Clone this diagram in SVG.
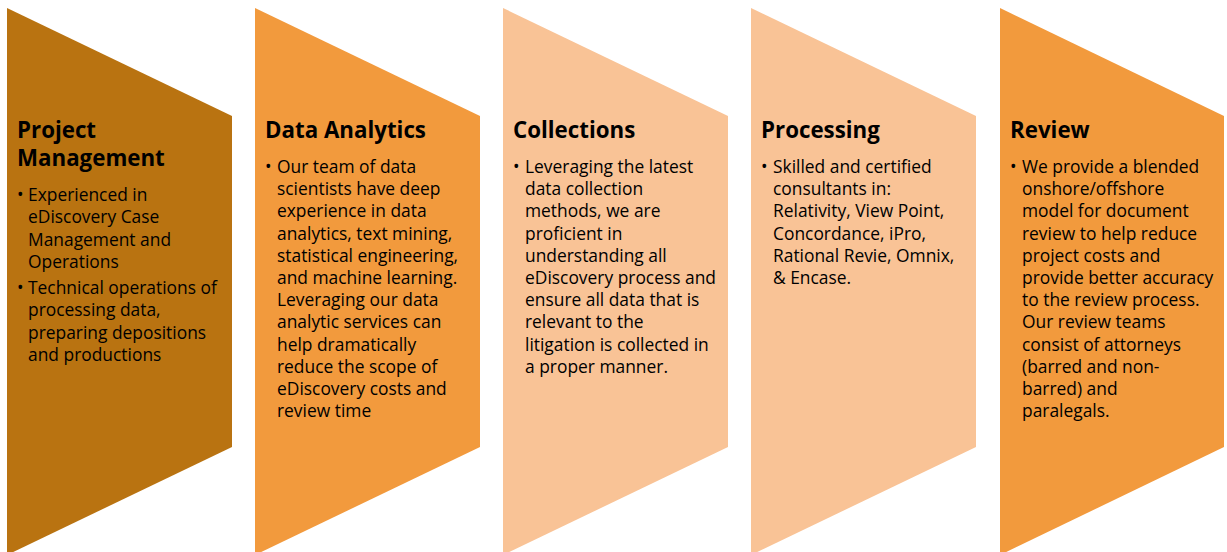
<svg xmlns="http://www.w3.org/2000/svg" width="1227" height="552" viewBox="0 0 1227 552">
<style>
.t{font-family:"Open Sans","Noto Sans",sans-serif;font-weight:700;font-size:22.3px;fill:#000}
.b{font-family:"Open Sans","Noto Sans",sans-serif;font-size:17.4px;fill:#000}
.c1{fill:#B97311}
.c2{fill:#F29A3D}
.c3{fill:#F9C396}
</style>
<rect width="1227" height="552" fill="#fff"/>
<g id="project-management">
<polygon class="c1" points="7,8 232,116 232,447 7,555"/>
<text class="t"><tspan x="17" y="138">Project</tspan><tspan x="17" y="166">Management</tspan></text>
<text class="b">
<tspan x="17" y="201">•</tspan><tspan x="28" y="201">Experienced in</tspan>
<tspan x="28" y="223">eDiscovery Case</tspan>
<tspan x="28" y="246">Management and</tspan>
<tspan x="28" y="268">Operations</tspan>
<tspan x="17" y="294">•</tspan><tspan x="28" y="294">Technical operations of</tspan>
<tspan x="28" y="316">processing data,</tspan>
<tspan x="28" y="339">preparing depositions</tspan>
<tspan x="28" y="361">and productions</tspan>
</text>
</g>
<g id="data-analytics">
<polygon class="c2" points="255,8 480,116 480,447 255,555"/>
<text class="t" x="265" y="138">Data Analytics</text>
<text class="b">
<tspan x="265" y="173">•</tspan><tspan x="277" y="173">Our team of data</tspan>
<tspan x="277" y="195">scientists have deep</tspan>
<tspan x="277" y="217">experience in data</tspan>
<tspan x="277" y="240">analytics, text mining,</tspan>
<tspan x="277" y="262">statistical engineering,</tspan>
<tspan x="277" y="284">and machine learning.</tspan>
<tspan x="277" y="306">Leveraging our data</tspan>
<tspan x="277" y="328">analytic services can</tspan>
<tspan x="277" y="351">help dramatically</tspan>
<tspan x="277" y="373">reduce the scope of</tspan>
<tspan x="277" y="395">eDiscovery costs and</tspan>
<tspan x="277" y="417">review time</tspan>
</text>
</g>
<g id="collections">
<polygon class="c3" points="503,8 728,116 728,447 503,555"/>
<text class="t" x="513" y="138">Collections</text>
<text class="b">
<tspan x="513" y="173">•</tspan><tspan x="525" y="173">Leveraging the latest</tspan>
<tspan x="525" y="195">data collection</tspan>
<tspan x="525" y="217">methods, we are</tspan>
<tspan x="525" y="240">proficient in</tspan>
<tspan x="525" y="262">understanding all</tspan>
<tspan x="525" y="284">eDiscovery process and</tspan>
<tspan x="525" y="306">ensure all data that is</tspan>
<tspan x="525" y="328">relevant to the</tspan>
<tspan x="525" y="351">litigation is collected in</tspan>
<tspan x="525" y="373">a proper manner.</tspan>
</text>
</g>
<g id="processing">
<polygon class="c3" points="751,8 976,116 976,447 751,555"/>
<text class="t" x="761" y="138">Processing</text>
<text class="b">
<tspan x="761" y="173">•</tspan><tspan x="773" y="173">Skilled and certified</tspan>
<tspan x="773" y="195">consultants in:</tspan>
<tspan x="773" y="217">Relativity, View Point,</tspan>
<tspan x="773" y="240">Concordance, iPro,</tspan>
<tspan x="773" y="262">Rational Revie, Omnix,</tspan>
<tspan x="773" y="284">&amp; Encase.</tspan>
</text>
</g>
<g id="review">
<polygon class="c2" points="1000,8 1224,116 1224,447 1000,555"/>
<text class="t" x="1010" y="138">Review</text>
<text class="b">
<tspan x="1010" y="173">•</tspan><tspan x="1022" y="173">We provide a blended</tspan>
<tspan x="1022" y="195">onshore/offshore</tspan>
<tspan x="1022" y="217">model for document</tspan>
<tspan x="1022" y="240">review to help reduce</tspan>
<tspan x="1022" y="262">project costs and</tspan>
<tspan x="1022" y="284">provide better accuracy</tspan>
<tspan x="1022" y="306">to the review process.</tspan>
<tspan x="1022" y="328">Our review teams</tspan>
<tspan x="1022" y="351">consist of attorneys</tspan>
<tspan x="1022" y="373">(barred and non-</tspan>
<tspan x="1022" y="395">barred) and</tspan>
<tspan x="1022" y="417">paralegals.</tspan>
</text>
</g>
<g id="connectors"/>
</svg>
